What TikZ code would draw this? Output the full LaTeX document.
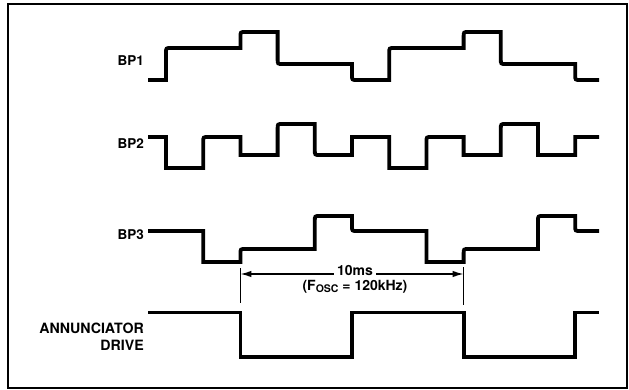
\documentclass[tikz,border=0pt]{standalone}
\usepackage{fontspec}
\setmainfont{TeX Gyre Heros}
\usetikzlibrary{arrows.meta}
\begin{document}
\begin{tikzpicture}[x=1pt,y=-1pt,
  wave/.style={line width=3.8pt,line join=miter,line cap=butt},
  lbl/.style={font=\bfseries\fontsize{13.5}{13.5}\selectfont,anchor=base east,inner sep=0pt},
  biglbl/.style={font=\bfseries\fontsize{14.2}{14.2}\selectfont,anchor=base east,inner sep=0pt},
  dim/.style={line width=1.4pt},
  tick/.style={line width=1.6pt},
  tip/.style={-{Latex[length=11pt,width=6.5pt]}}]
\useasboundingbox (0,0) rectangle (629,390);
\draw[line width=1.2pt] (8,4) rectangle (627,388);
% labels
\node[lbl] (l1) at (144,66) {BP1};
\node[lbl] (l2) at (144,149) {BP2};
\node[lbl] (l3) at (144,240) {BP3};
\node[biglbl] (la) at (144,333) {ANNUNCIATOR};
\node[biglbl] (ld) at (144,350) {DRIVE};
% BP1
\draw[wave] (148,80) -- (166,80) -- (166,53) .. controls (166,48) .. (171,48)
 -- (240.4,48) -- (240.4,37) .. controls (240.4,32) .. (245.4,32)
 -- (277.6,32) -- (277.6,59) .. controls (277.6,64) .. (282.6,64)
 -- (352,64) -- (352,75) .. controls (352,80) .. (357,80)
 -- (389.2,80) -- (389.2,53) .. controls (389.2,48) .. (394.2,48)
 -- (463.6,48) -- (463.6,37) .. controls (463.6,32) .. (468.6,32)
 -- (500.8,32) -- (500.8,59) .. controls (500.8,64) .. (505.8,64)
 -- (575.2,64) -- (575.2,75) .. controls (575.2,80) .. (580.2,80)
 -- (599,80);
% BP2
\draw[wave] (148,137) -- (166,137) -- (166,168)
 -- (203.2,168) -- (203.2,142) .. controls (203.2,137) .. (208.2,137)
 -- (240.4,137) -- (240.4,155)
 -- (277.6,155) -- (277.6,129) .. controls (277.6,124) .. (282.6,124)
 -- (314.8,124) -- (314.8,150) .. controls (314.8,155) .. (319.8,155)
 -- (352,155) -- (352,137)
 -- (389.2,137) -- (389.2,168)
 -- (426.4,168) -- (426.4,142) .. controls (426.4,137) .. (431.4,137)
 -- (463.6,137) -- (463.6,155)
 -- (500.8,155) -- (500.8,129) .. controls (500.8,124) .. (505.8,124)
 -- (538,124) -- (538,155)
 -- (575.2,155) -- (575.2,137)
 -- (599,137);
% BP3
\draw[wave] (148,231) -- (203.2,231) -- (203.2,262)
 -- (240.4,262) -- (240.4,254) .. controls (240.4,249) .. (245.4,249)
 -- (314.8,249) -- (314.8,221) .. controls (314.8,216) .. (319.8,216)
 -- (352,216) -- (352,226) .. controls (352,231) .. (357,231)
 -- (426.4,231) -- (426.4,262)
 -- (463.6,262) -- (463.6,254) .. controls (463.6,249) .. (468.6,249)
 -- (538,249) -- (538,221) .. controls (538,216) .. (543,216)
 -- (575.2,216) -- (575.2,226) .. controls (575.2,231) .. (580.2,231)
 -- (599,231);
% Annunciator drive
\draw[wave] (148,312.5) -- (240.4,312.5) -- (240.4,357) -- (352,357) -- (352,312.5)
 -- (463.6,312.5) -- (463.6,357) -- (575.2,357) -- (575.2,312.5) -- (599,312.5);
% dimension
\coordinate (tlt) at (240.4,268);
\coordinate (tlb) at (240.4,303);
\coordinate (trt) at (463.6,267);
\coordinate (trb) at (463.6,305);
\coordinate (al) at (240.4,274);
\coordinate (ar) at (463.6,274);
\draw[tick] (tlt) -- (tlb);
\draw[tick] (trt) -- (trb);
\node[font=\bfseries\fontsize{14}{14}\selectfont,inner sep=3pt] (tm) at (355,270) {10ms};
\node[font=\bfseries\fontsize{14}{14}\selectfont,inner sep=0pt] (fo) at (355,287)
  {(F\raisebox{-1.5pt}{\fontsize{10.5}{10.5}\selectfont OSC} = 120kHz)};
\draw[dim,tip] (tm.west |- al) -- (al);
\draw[dim,tip] (tm.east |- ar) -- (ar);
\end{tikzpicture}
\end{document}
